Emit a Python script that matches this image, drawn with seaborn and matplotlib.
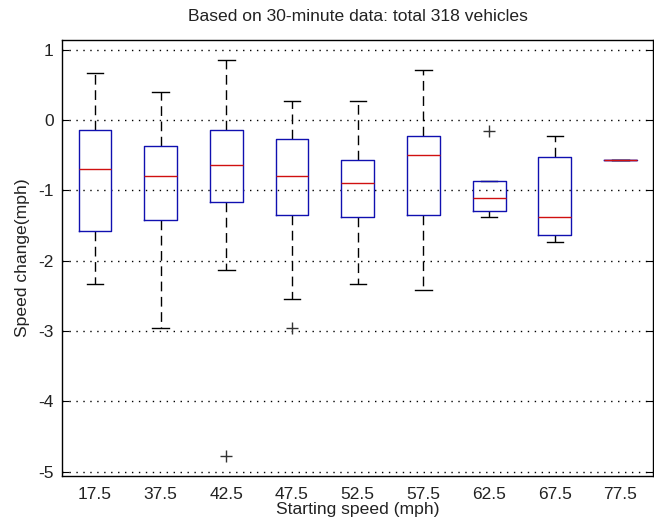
import matplotlib
matplotlib.use("Agg")
import matplotlib.pyplot as plt
import pandas as pd
import seaborn as sns

plt.rcParams["font.family"] = ["Liberation Sans", "DejaVu Sans"]
plt.rcParams["axes.unicode_minus"] = False

# five-number summaries
speeds = ["17.5", "37.5", "42.5", "47.5", "52.5", "57.5", "62.5", "67.5", "77.5"]
whisker_low = [-2.33, -2.95, -2.13, -2.54, -2.33, -2.41, -1.38, -1.73, -0.57]
q1 = [-1.58, -1.42, -1.17, -1.35, -1.37, -1.35, -1.29, -1.63, -0.57]
median = [-0.69, -0.80, -0.64, -0.80, -0.90, -0.50, -1.10, -1.37, -0.57]
q3 = [-0.14, -0.37, -0.14, -0.27, -0.56, -0.22, -0.87, -0.52, -0.57]
whisker_high = [0.67, 0.40, 0.86, 0.27, 0.27, 0.72, -0.87, -0.22, -0.57]

outlier_speed = ["42.5", "47.5", "62.5"]
outlier_value = [-4.77, -2.95, -0.15]

rows = []
for s, lo, a, m, b, hi in zip(speeds, whisker_low, q1, median, q3, whisker_high):
    for v in (lo, a, m, b, hi):
        rows.append({"speed": s, "change": v})
df = pd.DataFrame(rows)
out = pd.DataFrame({"speed": outlier_speed, "change": outlier_value})

fig = plt.figure(figsize=(6.54, 5.26), dpi=100)
ax = fig.add_axes([0.095, 0.095, 0.904, 0.829])

sns.boxplot(data=df, x="speed", y="change", order=speeds, ax=ax,
            fill=False, color="black", width=0.5, whis=(0, 100), linewidth=1,
            boxprops=dict(color="#1010b0", zorder=4),
            medianprops=dict(color="#d01010", zorder=5),
            whiskerprops=dict(color="black", linestyle=(0, (7, 4))),
            capprops=dict(color="black", zorder=3))
sns.stripplot(data=out, x="speed", y="change", order=speeds, ax=ax,
              jitter=False, marker="+", size=9, color="#333333",
              edgecolor="#333333", linewidth=1)

ax.set_ylim(-5.06, 1.14)
ax.set_xlim(-0.5, 8.5)
ax.set_yticks([1, 0, -1, -2, -3, -4, -5])
ax.yaxis.grid(True, linestyle=(0, (1, 4)), color="black", linewidth=1)
ax.set_axisbelow(True)
ax.tick_params(axis="y", direction="in", right=True, length=5, labelsize=12.5,
               labelcolor="#222222", pad=6)
ax.tick_params(axis="x", length=0, labelsize=12.5, labelcolor="#222222", pad=8)
for sp in ax.spines.values():
    sp.set_color("black")
    sp.set_linewidth(1)

ax.set_title("Based on 30-minute data: total 318 vehicles", fontsize=12.6,
             color="#222222", pad=14)
ax.set_xlabel("Starting speed (mph)", fontsize=12.6, color="#222222", labelpad=0)
ax.set_ylabel("Speed change(mph)", fontsize=12.6, color="#222222", labelpad=6)

fig.savefig("out.png", dpi=100)
